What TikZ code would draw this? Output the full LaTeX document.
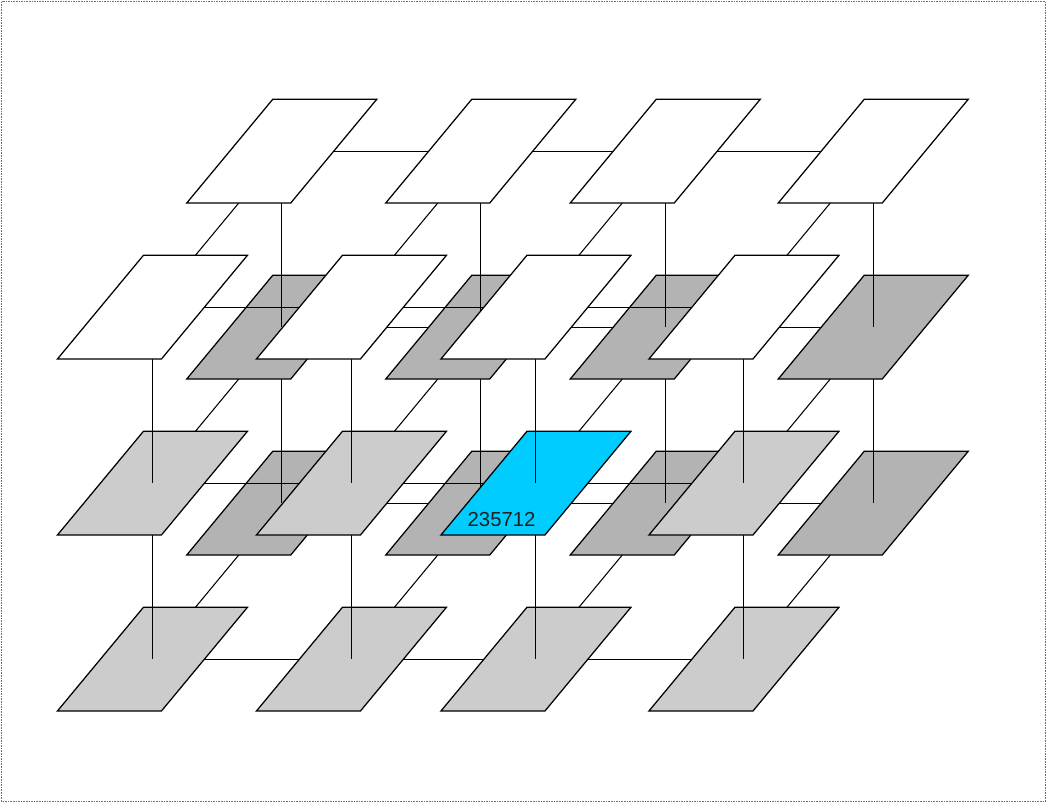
\documentclass[tikz,border=0pt]{standalone}
\usepackage{fontspec}
\setmainfont{Liberation Sans}
\definecolor{darkg}{RGB}{179,179,179}
\definecolor{lightg}{RGB}{204,204,204}
\definecolor{cyanp}{RGB}{0,204,255}
\definecolor{bord}{RGB}{235,60,60}
\pgfdeclarelayer{bg}
\pgfdeclarelayer{lthreelines}
\pgfdeclarelayer{lthreeplanes}
\pgfdeclarelayer{vtwothree}
\pgfdeclarelayer{ltwolines}
\pgfdeclarelayer{ltwoplanes}
\pgfdeclarelayer{vonetwo}
\pgfdeclarelayer{lonelines}
\pgfdeclarelayer{loneplanes}
\pgfsetlayers{bg,lthreelines,lthreeplanes,vtwothree,ltwolines,ltwoplanes,vonetwo,lonelines,loneplanes,main}
\begin{document}
\begin{tikzpicture}[x=1pt,y=-1pt,
  plane/.style={draw=black, line width=1.25pt, minimum width=104pt, minimum height=103.7pt,
    inner sep=0pt, outer sep=0pt, xslant=0.8293},
  link/.style={draw=black, line width=1.05pt},
  frame/.style={draw=bord, dash pattern=on 1.6pt off 1pt, line width=1.2pt}]
\begin{pgfonlayer}{bg}
\fill[white] (0,0) rectangle (1047,803);
\end{pgfonlayer}
\useasboundingbox (0,0) rectangle (1047,803);
% ---------- planes ----------
\begin{pgfonlayer}{loneplanes}
\foreach \c/\x in {1/281.7,2/480.7,3/665.2,4/873.2}{
  \node[plane, fill=white] (b1\c) at (\x,151.2) {};
}
\foreach \c/\x in {1/152.4,2/351.4,3/535.9,4/743.9}{
  \node[plane, fill=white] (f1\c) at (\x,307.2) {};
}
\end{pgfonlayer}
\begin{pgfonlayer}{ltwoplanes}
\foreach \c/\x in {1/281.7,2/480.7,3/665.2,4/873.2}{
  \node[plane, fill=darkg] (b2\c) at (\x,327.2) {};
}
\foreach \c/\x/\col in {1/152.4/lightg,2/351.4/lightg,3/535.9/cyanp,4/743.9/lightg}{
  \node[plane, fill=\col] (f2\c) at (\x,483.2) {};
}
\end{pgfonlayer}
\begin{pgfonlayer}{lthreeplanes}
\foreach \c/\x in {1/281.7,2/480.7,3/665.2,4/873.2}{
  \node[plane, fill=darkg] (b3\c) at (\x,503.2) {};
}
\foreach \c/\x in {1/152.4,2/351.4,3/535.9,4/743.9}{
  \node[plane, fill=lightg] (f3\c) at (\x,659.2) {};
}
\end{pgfonlayer}
% ---------- connectors ----------
\begin{pgfonlayer}{lthreelines}
\foreach \a/\b in {1/2,2/3,3/4}{
  \draw[link] (b3\a.center) -- (b3\b.center);
  \draw[link] (f3\a.center) -- (f3\b.center);
}
\foreach \c in {1,2,3,4}{\draw[link] (b3\c.center) -- (f3\c.center);}
\end{pgfonlayer}
\begin{pgfonlayer}{vtwothree}
\foreach \c in {1,2,3,4}{
  \draw[link] (b2\c.center) -- (b3\c.center);
  \draw[link] (f2\c.center) -- (f3\c.center);
}
\end{pgfonlayer}
\begin{pgfonlayer}{ltwolines}
\foreach \a/\b in {1/2,2/3,3/4}{
  \draw[link] (b2\a.center) -- (b2\b.center);
  \draw[link] (f2\a.center) -- (f2\b.center);
}
\foreach \c in {1,2,3,4}{\draw[link] (b2\c.center) -- (f2\c.center);}
\end{pgfonlayer}
\begin{pgfonlayer}{vonetwo}
\foreach \c in {1,2,3,4}{
  \draw[link] (b1\c.center) -- (b2\c.center);
  \draw[link] (f1\c.center) -- (f2\c.center);
}
\end{pgfonlayer}
\begin{pgfonlayer}{lonelines}
\foreach \a/\b in {1/2,2/3,3/4}{
  \draw[link] (b1\a.center) -- (b1\b.center);
  \draw[link] (f1\a.center) -- (f1\b.center);
}
\foreach \c in {1,2,3,4}{\draw[link] (b1\c.center) -- (f1\c.center);}
\end{pgfonlayer}
% ---------- label and frame ----------
\node[anchor=base west, inner sep=0pt, font=\fontsize{20.3}{24}\selectfont, text=black!88] (lab) at (467.5,526.7) {235712};
\draw[frame] (1.6,1.6) rectangle (1045.4,801.4);
\end{tikzpicture}
\end{document}
